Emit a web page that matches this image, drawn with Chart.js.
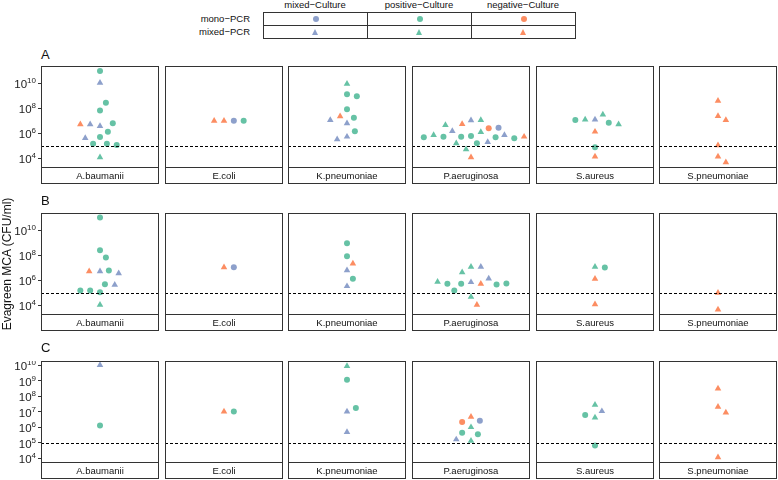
<!DOCTYPE html>
<html>
<head>
<meta charset="utf-8">
<script src="https://cdn.jsdelivr.net/npm/chart.js@4.4.0/dist/chart.umd.min.js"></script>
<style>
  body { margin: 0; background: #fff; font-family: 'Liberation Sans', Arial, sans-serif; }
  #wrap { position: relative; width: 778px; height: 480px; overflow: hidden; background: #fff; }
  #wrap canvas { position: absolute; }
  .txt { position: absolute; color: #111; white-space: nowrap; }
  .cell { position: absolute; box-sizing: border-box; border: 1px solid #333; }
  .mk { position: absolute; left: 50%; top: 50%; }
</style>
</head>
<body>
<div id="wrap"></div>
<script>
const species = ['A.baumanii', 'E.coli', 'K.pneumoniae', 'P.aeruginosa', 'S.aureus', 'S.pneumoniae'];
const rowLabels = ['A', 'B', 'C'];
const cultures = ['mixed−Culture', 'positive−Culture', 'negative−Culture'];
const cultureKeys = ['m', 'p', 'n'];
const cultureColors = ['#8DA0CB', '#66C2A5', '#FC8D62'];
const pcrLabels = ['mono−PCR', 'mixed−PCR'];
const pcrKeys = ['o', 'x']; // o = circle, x = triangle

// y axes (log10 CFU/ml)
const ticksAB = [4, 6, 8, 10];
const ticksC = [4, 5, 6, 7, 8, 9, 10];
const rangeAB = [3.22, 11.4];
const rangeC = [3.68, 10.26];
const cutoff = 5;

// each point: [culture, pcr, log10 CFU/ml, jitter]
const pointsA = [
  [['p','o',11.0,0], ['m','x',10.05,0], ['p','o',8.45,0.06], ['p','o',7.84,0], ['n','x',6.72,-0.2],
   ['m','x',6.72,-0.1], ['m','x',6.58,0], ['p','o',6.8,0.13], ['p','o',6.13,0.08], ['p','o',5.7,0],
   ['m','x',5.62,-0.15], ['p','o',5.17,-0.07], ['p','o',5.17,0.07], ['p','o',5.06,0.17], ['p','x',4.08,0]],
  [['n','x',7.0,-0.1], ['n','x',7.0,0], ['m','o',7.0,0.1], ['p','o',7.0,0.2]],
  [['p','x',9.97,0], ['p','o',9.14,0], ['p','o',8.98,0.1], ['p','o',7.94,0], ['m','x',7.06,-0.17],
   ['n','x',7.36,-0.07], ['p','o',7.25,0.07], ['m','x',6.8,0], ['p','o',6.16,0.08], ['m','x',5.52,-0.1],
   ['m','x',5.73,0]],
  [['p','o',5.68,-0.48], ['p','x',5.86,-0.38], ['p','o',5.73,-0.28], ['p','x',6.66,-0.26], ['m','x',6.18,-0.19],
   ['p','x',5.2,-0.15], ['p','o',5.73,-0.1], ['n','x',6.74,-0.09], ['p','x',4.72,-0.05], ['n','x',4.08,0],
   ['p','o',5.78,0], ['m','x',7.04,0], ['p','x',7.06,0.1], ['p','o',5.2,0.06], ['p','x',6.1,0.1],
   ['n','o',6.4,0.18], ['m','x',5.3,0.17], ['p','o',5.68,0.25], ['m','o',6.45,0.28], ['m','x',5.86,0.34],
   ['p','o',5.6,0.44], ['n','x',5.73,0.54]],
  [['p','o',7.06,-0.2], ['p','x',7.1,-0.1], ['m','x',7.1,0], ['p','x',7.5,0.08], ['p','o',6.85,0.14],
   ['p','x',6.72,0.24], ['n','x',6.13,0], ['p','o',4.88,0], ['n','x',4.13,0]],
  [['n','x',8.61,0], ['n','x',7.38,0], ['n','x',7.06,0.08], ['n','x',5.04,0], ['n','x',4.13,0], ['n','x',3.68,0.08]]
];

const pointsB = [
  [['p','o',11.04,0], ['p','o',8.42,0], ['p','o',7.83,0.06], ['n','x',6.73,-0.11], ['m','x',6.73,0],
   ['p','o',6.79,0.09], ['m','x',6.57,0.19], ['p','o',5.69,0.05], ['m','x',5.64,0.15], ['p','o',5.18,-0.2],
   ['p','o',5.18,-0.1], ['p','o',5.04,0], ['p','x',4.03,0]],
  [['n','x',7.05,0], ['m','o',7.05,0.1]],
  [['p','o',8.98,0], ['p','o',7.94,0], ['n','x',7.35,0.06], ['m','x',6.81,0], ['p','o',6.12,0.06], ['m','x',5.53,0]],
  [['p','x',5.88,-0.34], ['p','o',5.72,-0.24], ['p','x',6.65,-0.09], ['p','x',7.08,0], ['m','x',7.08,0.1],
   ['p','o',5.18,-0.17], ['p','o',5.72,-0.1], ['m','x',5.85,0], ['n','x',5.72,0.1], ['m','x',6.14,0.18],
   ['p','o',5.66,0.26], ['p','o',5.74,0.36], ['p','x',4.67,0], ['n','x',4.04,0.06]],
  [['p','x',7.08,0], ['p','o',7.03,0.1], ['n','x',6.12,0], ['n','x',4.08,0]],
  [['n','x',5.0,0], ['n','x',3.65,0]]
];

const pointsC = [
  [['m','x',10.0,0], ['p','o',6.1,0]],
  [['n','x',7.0,0], ['p','o',7.0,0.1]],
  [['p','x',9.93,0], ['p','o',9.05,0], ['m','x',7.0,0], ['p','o',7.22,0.09], ['m','x',5.67,0]],
  [['n','o',6.33,-0.09], ['n','x',6.66,0], ['m','o',6.4,0.09], ['p','x',5.99,0], ['p','o',5.63,-0.09],
   ['p','o',5.54,0.07], ['m','x',5.2,-0.15], ['p','x',5.11,0]],
  [['p','x',7.43,0], ['m','x',7.02,0.07], ['p','o',6.78,-0.1], ['p','x',6.61,0], ['p','o',4.81,0]],
  [['n','x',8.48,0], ['n','x',7.3,0], ['n','x',6.93,0.08], ['n','x',4.04,0]]
];

const allRows = [pointsA, pointsB, pointsC];

// layout
const FONT = "'Liberation Sans', Arial, sans-serif";
const colLeft = [41, 165, 288, 412, 536, 659];
const panelW = 118;
const rowTop = [66, 213, 361];
const panelH = 102;
const stripH = 16;

const wrap = document.getElementById('wrap');

function addText(text, css) {
  const d = document.createElement('div');
  d.className = 'txt';
  d.textContent = text;
  Object.assign(d.style, css);
  wrap.appendChild(d);
  return d;
}

const panelFrame = {
  id: 'panelFrame',
  afterDatasetsDraw(chart, args, opts) {
    const { ctx, chartArea: a } = chart;
    const y = chart.scales.y;
    const yc = Math.round(y.getPixelForValue(10 ** cutoff)) + 0.5;
    ctx.save();
    ctx.strokeStyle = '#000';
    ctx.lineWidth = 1;
    ctx.setLineDash([3, 2]);
    ctx.beginPath();
    ctx.moveTo(a.left, yc);
    ctx.lineTo(a.right, yc);
    ctx.stroke();
    ctx.setLineDash([]);
    ctx.strokeStyle = '#333';
    ctx.strokeRect(a.left + 0.5, a.top + 0.5, a.right - a.left - 1, a.bottom - a.top - 1);
    ctx.strokeRect(a.left + 0.5, a.bottom - 0.5, a.right - a.left - 1, stripH);
    ctx.fillStyle = '#111';
    ctx.font = '9.5px ' + FONT;
    ctx.textAlign = 'center';
    ctx.textBaseline = 'middle';
    ctx.fillText(opts.label, (a.left + a.right) / 2, a.bottom + stripH / 2 + 0.5);

    // y tick labels as 10 with a raised exponent
    if (y.options.display) {
      const right = a.left - 5;
      ctx.fillStyle = '#222';
      ctx.textAlign = 'left';
      ctx.textBaseline = 'alphabetic';
      y.ticks.forEach(t => {
        const py = y.getPixelForValue(t.value);
        const exp = String(Math.round(Math.log10(t.value)));
        ctx.font = '8px ' + FONT;
        const we = ctx.measureText(exp).width;
        ctx.font = '11.5px ' + FONT;
        const wb = ctx.measureText('10').width;
        ctx.fillText('10', right - we - wb, py + 5);
        ctx.font = '8px ' + FONT;
        ctx.fillText(exp, right - we, py);
      });
    }
    ctx.restore();
  }
};

function makePanel(r, c) {
  const first = c === 0;
  const cv = document.createElement('canvas');
  const w = first ? colLeft[0] + panelW : panelW;
  cv.width = w;
  cv.height = panelH + stripH;
  cv.style.left = (first ? 0 : colLeft[c]) + 'px';
  cv.style.top = rowTop[r] + 'px';
  wrap.appendChild(cv);

  const range = r === 2 ? rangeC : rangeAB;
  const tickList = r === 2 ? ticksC : ticksAB;
  const pts = allRows[r][c].map(p => ({ x: 1 + p[3], y: 10 ** p[2], c: p[0], s: p[1] }));

  new Chart(cv, {
    type: 'scatter',
    data: {
      datasets: [{
        data: pts,
        backgroundColor: ctx => cultureColors[cultureKeys.indexOf(ctx.raw.c)],
        pointStyle: ctx => ctx.raw.s === 'o' ? 'circle' : 'triangle',
        pointRadius: ctx => ctx.raw.s === 'o' ? 3 : 3.8,
        borderWidth: 0,
        clip: false
      }]
    },
    options: {
      responsive: false,
      animation: false,
      events: [],
      layout: { autoPadding: false, padding: { top: 0, left: 0, right: 0, bottom: stripH } },
      plugins: {
        legend: { display: false },
        tooltip: { enabled: false },
        panelFrame: { label: species[c] }
      },
      scales: {
        x: { type: 'linear', min: 0.4, max: 1.6, display: false },
        y: {
          type: 'logarithmic',
          min: 10 ** range[0],
          max: 10 ** range[1],
          display: first,
          afterBuildTicks: s => { s.ticks = tickList.map(v => ({ value: 10 ** v })); },
          afterFit: s => {
            s.width = first ? colLeft[0] : 0;
            s.paddingTop = 0;
            s.paddingBottom = 0;
          },
          border: { display: false },
          grid: { drawOnChartArea: false, drawTicks: true, tickLength: 3, color: '#333' },
          ticks: { display: false, autoSkip: false }
        }
      }
    },
    plugins: [panelFrame]
  });
}

for (let r = 0; r < 3; r++) {
  for (let c = 0; c < species.length; c++) makePanel(r, c);
}

// panel tags
const tagY = [47, 193, 340];
rowLabels.forEach((t, i) => addText(t, { left: '41px', top: tagY[i] + 'px', fontSize: '13px', lineHeight: '15px' }));

// y title
addText('Evagreen MCA (CFU/ml)', {
  left: '7px', top: '264px', fontSize: '12px', lineHeight: '14px',
  transform: 'translate(-50%, -50%) rotate(-90deg)'
});

// legend table
const legLeft = 263, legTop = 12, cellW = 104, cellH = 13;
cultures.forEach((name, i) => {
  addText(name, {
    left: (legLeft + cellW * i) + 'px', top: '0px', width: cellW + 'px',
    textAlign: 'center', fontSize: '9.5px', lineHeight: '10px'
  });
});
pcrLabels.forEach((name, j) => {
  addText(name, {
    left: '150px', top: (legTop + cellH * j) + 'px', width: '100px',
    textAlign: 'right', fontSize: '9.5px', lineHeight: (cellH + 1) + 'px'
  });
  cultures.forEach((_, i) => {
    const cell = document.createElement('div');
    cell.className = 'cell';
    Object.assign(cell.style, {
      left: (legLeft + cellW * i) + 'px', top: (legTop + cellH * j) + 'px',
      width: (cellW + 1) + 'px', height: (cellH + 1) + 'px'
    });
    const mk = document.createElement('div');
    mk.className = 'mk';
    if (pcrKeys[j] === 'o') {
      Object.assign(mk.style, { width: '6px', height: '6px', marginLeft: '-3px', marginTop: '-3px',
        borderRadius: '50%', background: cultureColors[i] });
    } else {
      Object.assign(mk.style, { width: '0', height: '0', marginLeft: '-3.5px', marginTop: '-3.5px',
        borderLeft: '3.5px solid transparent', borderRight: '3.5px solid transparent',
        borderBottom: '6px solid ' + cultureColors[i] });
    }
    cell.appendChild(mk);
    wrap.appendChild(cell);
  });
});
</script>
</body>
</html>
